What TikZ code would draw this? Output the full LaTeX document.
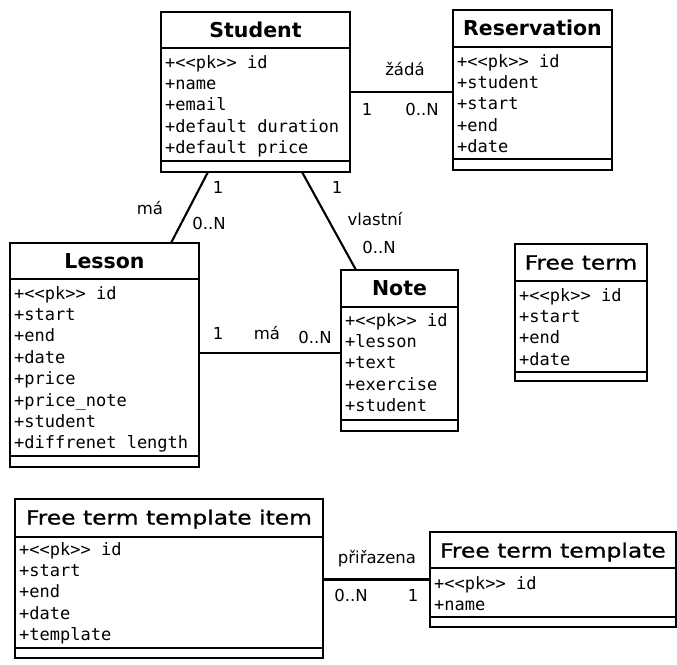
\documentclass[tikz,border=0pt]{standalone}
\usepackage{fontspec}
\setmainfont{DejaVu Sans}
\newfontfamily\attrfont{DejaVu Sans Mono}[Ligatures=TeXOff]
\newfontfamily\widefont{DejaVu Sans}[FakeStretch=1.2,FakeBold=1]

% class frame: #1 name, #2 left, #3 top, #4 right, #5 bottom, #6 title divider, #7 attribute divider
\newcommand\classframe[7]{%
  \node[classbox, minimum width={#4-#2}, minimum height={#5-#3}] (#1) at (#2,#3) {};
  \draw[divider] (#1.west |- 0,#6) -- (#1.east |- 0,#6);
  \draw[divider] (#1.west |- 0,#7) -- (#1.east |- 0,#7);
}
% attribute lines: #1 name prefix, #2 left, #3 first baseline, #4 list
\newcommand\attrlines[4]{%
  \foreach \a [count=\i from 0] in {#4} {
    \node[attr] (#1-\i) at ({#2+4},{#3+21.4*\i}) {\a};
  }
}

\begin{document}
\begin{tikzpicture}[x=1pt,y=-1pt,
  classbox/.style={draw=black, line width=2.6pt, inner sep=0pt, outer sep=0pt, anchor=north west},
  divider/.style={line width=2.4pt},
  assoc/.style={line width=2.1pt},
  boldtitle/.style={anchor=base, inner sep=0pt, font=\fontsize{20.5}{24}\selectfont\bfseries},
  plaintitle/.style={anchor=base, inner sep=0pt, font=\fontsize{19.5}{23}\selectfont\widefont},
  attr/.style={anchor=base west, inner sep=0pt, font=\fontsize{17}{20}\selectfont\attrfont},
  role/.style={anchor=base, inner sep=0pt, font=\fontsize{16.5}{20}\selectfont},
]
\useasboundingbox (0,0) rectangle (677,664);

% Student
\classframe{student}{161}{12}{350}{172}{48}{161}
\node[boldtitle] (student-title) at ([yshift=-25.5pt]student.north) {Student};
\attrlines{student-a}{161}{68}{+<<pk>> id,+name,+email,+default duration,+default price}

% Reservation
\classframe{reservation}{453}{10}{612}{170}{47}{159}
\node[boldtitle] (reservation-title) at ([yshift=-25.5pt]reservation.north) {Reservation};
\attrlines{reservation-a}{453}{67}{+<<pk>> id,+student,+start,+end,+date}

% Lesson
\classframe{lesson}{10}{243}{199}{467}{279}{456}
\node[boldtitle] (lesson-title) at ([yshift=-25.5pt]lesson.north) {Lesson};
\attrlines{lesson-a}{10}{299}{+<<pk>> id,+start,+end,+date,+price,+price\_note,+student,+diffrenet length}

% Note
\classframe{note}{341}{270}{458}{431}{307}{420}
\node[boldtitle] (note-title) at ([yshift=-25.5pt]note.north) {Note};
\attrlines{note-a}{341}{326}{+<<pk>> id,+lesson,+text,+exercise,+student}

% Free term
\classframe{freeterm}{515}{244}{647}{381}{281}{372}
\node[plaintitle] (freeterm-title) at ([yshift=-25.5pt]freeterm.north) {Free term};
\attrlines{freeterm-a}{515}{301}{+<<pk>> id,+start,+end,+date}

% Free term template item
\classframe{item}{15}{499}{323}{658}{537}{648}
\node[plaintitle] (item-title) at ([yshift=-25.5pt]item.north) {Free term template item};
\attrlines{item-a}{15}{555}{+<<pk>> id,+start,+end,+date,+template}

% Free term template
\classframe{template}{430}{532}{676}{627}{568}{617}
\node[plaintitle] (template-title) at ([yshift=-25.5pt]template.north) {Free term template};
\attrlines{template-a}{430}{589}{+<<pk>> id,+name}

% associations
\draw[assoc] (student.east) -- (reservation.west |- student.east);
\draw[assoc] ([xshift=47pt]student.south west) -- ([xshift=161pt]lesson.north west);
\draw[assoc] ([xshift=141pt]student.south west) -- ([xshift=15pt]note.north west);
\coordinate (lessonout) at ([yshift=2pt]lesson.east);
\draw[assoc] (lessonout) -- (note.west |- lessonout);
\draw[assoc] (item.east |- template.west) -- (template.west);

% association names and multiplicities
\node[role] (sr-name) at (405,75) {žádá};
\node[role] (sr-m1) at (367,115) {1};
\node[role] (sr-m2) at (422,115) {0..N};

\node[role] (sl-m1) at (218,193) {1};
\node[role] (sl-name) at (150,214) {má};
\node[role] (sl-m2) at (209,229) {0..N};

\node[role] (sn-m1) at (337,193) {1};
\node[role] (sn-name) at (375,225) {vlastní};
\node[role] (sn-m2) at (379,253) {0..N};

\node[role] (ln-m1) at (218,339) {1};
\node[role] (ln-name) at (267,339) {má};
\node[role] (ln-m2) at (315,343) {0..N};

\node[role] (it-name) at (377,563) {přiřazena};
\node[role] (it-m1) at (351,601) {0..N};
\node[role] (it-m2) at (413,601) {1};
\end{tikzpicture}
\end{document}
